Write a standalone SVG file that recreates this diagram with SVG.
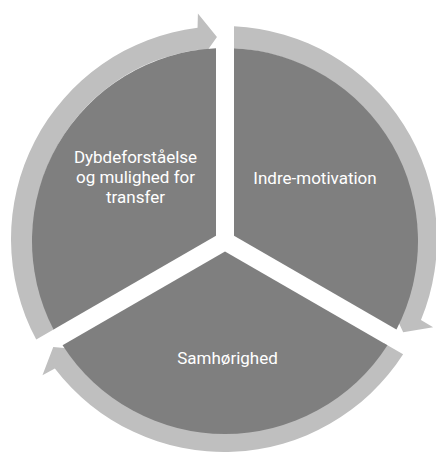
<svg xmlns="http://www.w3.org/2000/svg" width="436" height="453" viewBox="0 0 436 453">
  <style>
    .arrow { fill: #bfbfbf; }
    .segment { fill: #7f7f7f; }
    .label { fill: #ffffff; font-family: Roboto, "Liberation Sans", sans-serif; font-size: 17px; text-anchor: middle; }
  </style>
  <rect width="436" height="453" fill="#ffffff"/>

  <!-- circular arrows running clockwise around the cycle -->
  <g id="connectors">
    <path id="arrow-top-to-right" class="arrow" d="M 234,26.23 A 213 213 0 0 1 420.97,320.06 L 433.11,327.33 L 403.18,332.27 L 389.24,302.43 L 401.67,309.10 A 191 191 0 0 0 234,48.26 Z"/>
    <path id="arrow-right-to-left" class="arrow" d="M 403.12,354.23 A 213 213 0 0 1 54.85,368.44 L 42.47,375.30 L 53.26,346.94 L 86.07,349.91 L 74.05,357.31 A 191 191 0 0 0 384.05,343.22 Z"/>
    <path id="arrow-left-to-top" class="arrow" d="M 36.25,339.59 A 213 213 0 0 1 197.56,27.65 L 197.91,13.50 L 216.95,37.12 L 197.84,63.94 L 197.52,49.85 A 191 191 0 0 0 55.31,328.58 Z"/>
  </g>

  <!-- pie segments -->
  <g id="node-indre-motivation">
    <path class="segment" d="M 234,235.8 L 234,48.21 A 193 193 0 0 1 396.46,329.60 Z"/>
    <text class="label" x="315" y="184">Indre-motivation</text>
  </g>
  <g id="node-samhoerighed">
    <path class="segment" d="M 225,251.39 L 387.46,345.19 A 193 193 0 0 1 62.54,345.19 Z"/>
    <text class="label" x="227.5" y="364">Samhørighed</text>
  </g>
  <g id="node-dybdeforstaaelse">
    <path class="segment" d="M 216,235.8 L 53.54,329.60 A 193 193 0 0 1 216,48.21 Z"/>
    <text class="label" x="135.5" y="163">Dybdeforståelse<tspan x="135.5" dy="20">og mulighed for</tspan><tspan x="135.5" dy="20">transfer</tspan></text>
  </g>
</svg>
